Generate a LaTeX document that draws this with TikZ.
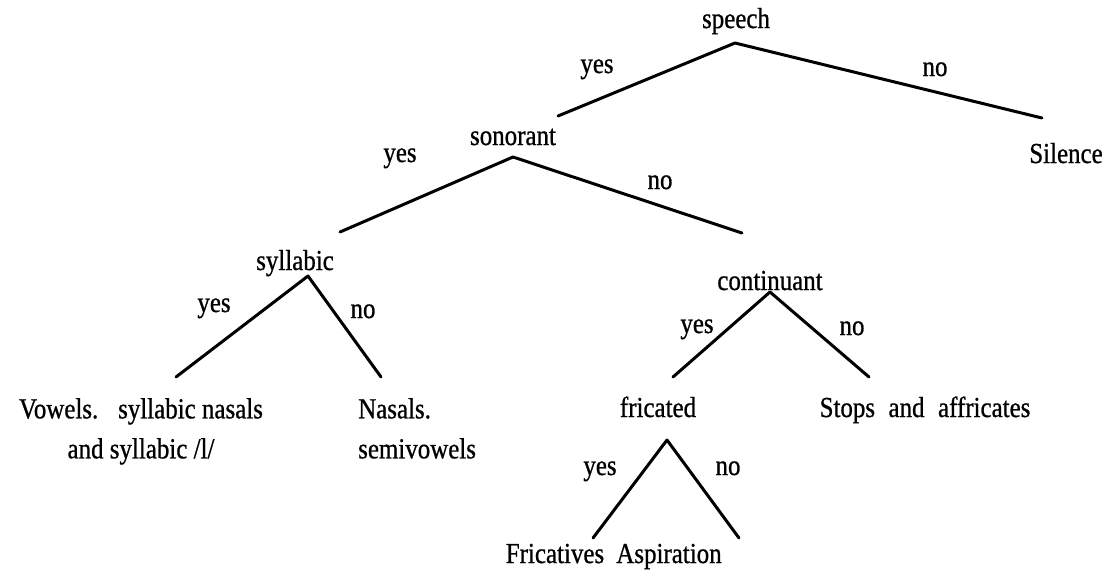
\documentclass[tikz,border=0pt]{standalone}
\usepackage{fontspec}
\setmainfont{Liberation Serif}[FakeStretch=0.86, FakeBold=0.8]
\begin{document}
\begin{tikzpicture}[x=1pt,y=-1pt,
  every node/.style={font=\fontsize{29}{40}\selectfont, inner sep=0pt},
  lbl/.style={anchor=base},
  branch/.style={line width=3pt, line cap=round, line join=round}]
\useasboundingbox (0,0) rectangle (1107,574);

% question and answer nodes
\node[lbl] (speech)     at (736,28)  {speech};
\node[lbl] (sonorant)   at (513,145) {sonorant};
\node[lbl] (silence)    at (1066,163) {Silence};
\node[lbl] (syllabic)   at (295,270) {syllabic};
\node[lbl] (continuant) at (770,290) {continuant};
\node[anchor=north, align=center] (vowels) at (141,398)
  {Vowels.\hspace{0.4em} syllabic nasals\\and syllabic /l/};
\node[anchor=north west, align=left] (nasals) at (358,398)
  {Nasals.\\semivowels};
\node[lbl] (fricated)   at (658,417) {fricated};
\node[lbl] (stops)      at (925,417) {Stops\hspace{0.25em} and\hspace{0.25em} affricates};
\node[lbl] (fricatives) at (555,563) {Fricatives};
\node[lbl] (aspiration) at (669,563) {Aspiration};

% fork points and branch tips
\coordinate (speech-fork)     at (735,43);
\coordinate (sonorant-tip)    at (558,116);
\coordinate (silence-tip)     at (1042,118);
\coordinate (sonorant-fork)   at (513,157);
\coordinate (syllabic-tip)    at (340,232);
\coordinate (continuant-tip)  at (742,233);
\coordinate (syllabic-fork)   at (308,276);
\coordinate (vowels-tip)      at (176,377);
\coordinate (nasals-tip)      at (381,377);
\coordinate (continuant-fork) at (770,292);
\coordinate (fricated-tip)    at (673,377);
\coordinate (stops-tip)       at (869,377);
\coordinate (fricated-fork)   at (667,440);
\coordinate (fricatives-tip)  at (593,538);
\coordinate (aspiration-tip)  at (739,538);

% branches
\draw[branch] (sonorant-tip) -- (speech-fork) -- (silence-tip);
\draw[branch] (syllabic-tip) -- (sonorant-fork) -- (continuant-tip);
\draw[branch] (vowels-tip) -- (syllabic-fork) -- (nasals-tip);
\draw[branch] (fricated-tip) -- (continuant-fork) -- (stops-tip);
\draw[branch] (fricatives-tip) -- (fricated-fork) -- (aspiration-tip);

% branch labels
\node[lbl] (yes-speech)     at (597,73)  {yes};
\node[lbl] (no-speech)      at (935,76)  {no};
\node[lbl] (yes-sonorant)   at (400,162) {yes};
\node[lbl] (no-sonorant)    at (660,189) {no};
\node[lbl] (yes-syllabic)   at (214,312) {yes};
\node[lbl] (no-syllabic)    at (363,318) {no};
\node[lbl] (yes-continuant) at (697,333) {yes};
\node[lbl] (no-continuant)  at (852,335) {no};
\node[lbl] (yes-fricated)   at (600,475) {yes};
\node[lbl] (no-fricated)    at (728,475) {no};
\end{tikzpicture}
\end{document}
